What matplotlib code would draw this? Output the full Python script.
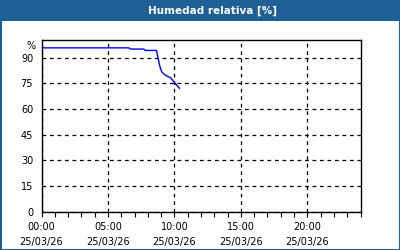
import matplotlib
matplotlib.use("Agg")
import matplotlib.pyplot as plt
from matplotlib.patches import Rectangle
from matplotlib.ticker import MultipleLocator

# horas desde 00:00 y humedad relativa (%)
horas = [0.0, 6.56, 6.7, 7.7, 7.8, 8.65, 8.9, 9.05, 9.3, 9.7, 10.07, 10.38]
humedad = [95.7, 95.7, 95.0, 95.0, 94.2, 94.2, 85.0, 81.6, 79.8, 78.3, 74.8, 72.1]

xticks = [0, 5, 10, 15, 20]
xlabels = ["00:00\n25/03/26", "05:00\n25/03/26", "10:00\n25/03/26",
           "15:00\n25/03/26", "20:00\n25/03/26"]
yticks = [0, 15, 30, 45, 60, 75, 90]

titulo = "Humedad relativa [%]"
azul = "#1e5f96"

fig = plt.figure(figsize=(4, 2.5), dpi=100)
fig.patch.set_facecolor("#fbfefb")

# barra de titulo y marco
fig.patches.append(Rectangle((0, 1 - 21 / 250), 1, 21 / 250, transform=fig.transFigure,
                             facecolor=azul, edgecolor="none", zorder=0))
fig.patches.append(Rectangle((0.5 / 400, 0.5 / 250), 399 / 400, 249 / 250, transform=fig.transFigure,
                             facecolor="none", edgecolor=azul, lw=1.5, zorder=0))
fig.text(213 / 400, 1 - 10.5 / 250, titulo, color="white", fontsize=7.5, fontweight="bold",
         ha="center", va="center")

ax = fig.add_axes([41.5 / 400, 1 - 211.5 / 250, 319 / 400, 171 / 250])
ax.set_facecolor("#fbfefb")
ax.plot(horas, humedad, color="#0000ff", lw=1)

ax.set_xlim(0, 24)
ax.set_ylim(0, 100)
ax.set_xticks(xticks)
ax.set_xticklabels(xlabels, fontsize=7, linespacing=1.6)
ax.xaxis.set_minor_locator(MultipleLocator(1))
ax.set_yticks(yticks)
ax.set_yticklabels([str(v) for v in yticks], fontsize=7)
ax.tick_params(axis="x", which="both", direction="out", length=3.5, width=0.8, pad=4)
ax.tick_params(axis="y", length=0, pad=6)
ax.grid(True, color="black", linestyle=(0, (3, 3)), lw=0.9)
for s in ax.spines.values():
    s.set_color("black")
    s.set_linewidth(1)

ax.text(-6 / 319 * 1, 96.5, "%", transform=ax.get_yaxis_transform(), fontsize=7,
        ha="right", va="center")

fig.savefig("out.png", dpi=100, facecolor=fig.get_facecolor())
